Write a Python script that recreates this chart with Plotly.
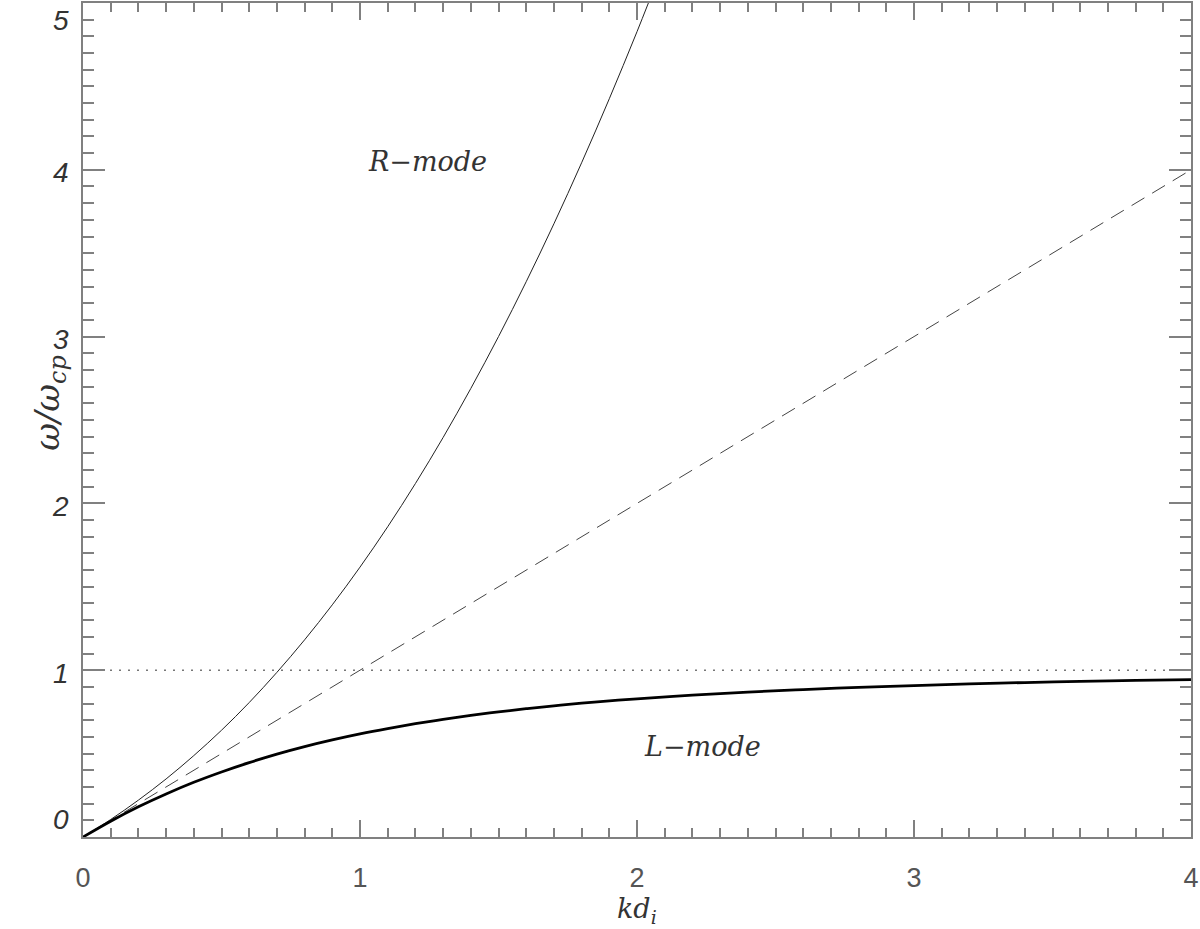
import plotly.graph_objects as go

# wavenumber k*d_i
kd_r = [0.0, 0.1, 0.2, 0.3, 0.4, 0.5, 0.6, 0.7, 0.8, 0.9, 1.0,
        1.1, 1.2, 1.3, 1.4, 1.5, 1.6, 1.7, 1.8, 1.9, 2.0, 2.1]
omega_r = [0.0, 0.105, 0.221, 0.348, 0.488, 0.640, 0.806, 0.987, 1.182, 1.392, 1.618,
           1.860, 2.119, 2.395, 2.689, 3.000, 3.329, 3.676, 4.042, 4.426, 4.828, 5.25]

kd_l = [0.0, 0.1, 0.2, 0.3, 0.4, 0.5, 0.6, 0.7, 0.8, 0.9, 1.0,
        1.1, 1.2, 1.3, 1.4, 1.5, 1.6, 1.7, 1.8, 1.9, 2.0,
        2.2, 2.4, 2.6, 2.8, 3.0, 3.2, 3.4, 3.6, 3.8, 4.0]
omega_l = [0.0, 0.095, 0.181, 0.258, 0.328, 0.390, 0.446, 0.497, 0.542, 0.582, 0.618,
           0.650, 0.679, 0.705, 0.729, 0.750, 0.769, 0.786, 0.802, 0.816, 0.828,
           0.851, 0.869, 0.884, 0.897, 0.908, 0.918, 0.926, 0.933, 0.939, 0.944]

kd_alfven = [0.0, 4.0]
omega_alfven = [0.0, 4.0]

kd_cyc = [0.0, 4.0]
omega_cyc = [1.0, 1.0]

y_ticks = [0, 1, 2, 3, 4, 5]
x_ticks = [0, 1, 2, 3, 4]

AX = "#808080"

fig = go.Figure()
fig.add_trace(go.Scatter(x=kd_cyc, y=omega_cyc, mode="lines",
                         line=dict(color="#777777", width=1.5, dash="2px,7px")))
fig.add_trace(go.Scatter(x=kd_alfven, y=omega_alfven, mode="lines",
                         line=dict(color="#444444", width=1, dash="15px,9px")))
fig.add_trace(go.Scatter(x=kd_r, y=omega_r, mode="lines", line_shape="spline",
                         line=dict(color="#222222", width=1)))
fig.add_trace(go.Scatter(x=kd_l, y=omega_l, mode="lines", line_shape="spline",
                         line=dict(color="black", width=2.8)))

fig.update_xaxes(
    range=[0, 4], tickvals=x_ticks, ticks="inside", ticklen=17, tickcolor=AX,
    tickwidth=1.5, showline=True, linecolor=AX, linewidth=1.5, mirror="allticks",
    showgrid=False, zeroline=False, ticklabelstandoff=16,
    tickfont=dict(family="Liberation Sans", size=27, color="#555555"),
    minor=dict(dtick=0.1, ticks="inside", ticklen=9, tickcolor=AX, tickwidth=1.5),
)
fig.update_yaxes(
    range=[0, 5], tickvals=y_ticks, ticks="inside", ticklen=22, tickcolor=AX,
    tickwidth=1.5, showline=True, linecolor=AX, linewidth=1.5, mirror="allticks",
    showgrid=False, zeroline=False, showticklabels=False,
    minor=dict(dtick=0.1, ticks="inside", ticklen=11, tickcolor=AX, tickwidth=1.5),
)

# y tick labels (IDL style, italic, nudged inside the page at the ends)
for v in y_ticks:
    anchor = "top" if v == max(y_ticks) else ("bottom" if v == 0 else "middle")
    fig.add_annotation(x=0, xref="paper", xshift=-12, xanchor="right",
                       y=v, yref="y", yanchor=anchor, yshift=-3 if anchor == "middle" else 0,
                       text=str(v), showarrow=False,
                       font=dict(family="Liberation Sans", size=28, color="#333333", style="italic"))

lab_font = dict(family="DejaVu Serif", size=27, color="#333333", style="italic")
fig.add_annotation(x=1.245, y=4.05, text="R\u2212mode", showarrow=False, font=lab_font)
fig.add_annotation(x=2.235, y=0.545, text="L\u2212mode", showarrow=False, font=lab_font)

fig.add_annotation(x=0.5, xref="paper", y=0, yref="paper", yshift=-73, yanchor="middle",
                   text="kd<sub>i</sub>", showarrow=False, font=lab_font)
fig.add_annotation(x=0, xref="paper", xshift=-58, y=0.52, yref="paper", textangle=-90,
                   text="\u03c9/\u03c9<sub>cp</sub>", showarrow=False,
                   font=dict(family="DejaVu Serif", size=34, color="#333333", style="italic"))

fig.update_layout(
    width=1200, height=929, showlegend=False,
    margin=dict(l=83, r=8, t=1, b=92),
    plot_bgcolor="white", paper_bgcolor="white",
)

fig.write_html("out.html", config={"displayModeBar": False},
               post_script="document.body.style.margin='0';")
